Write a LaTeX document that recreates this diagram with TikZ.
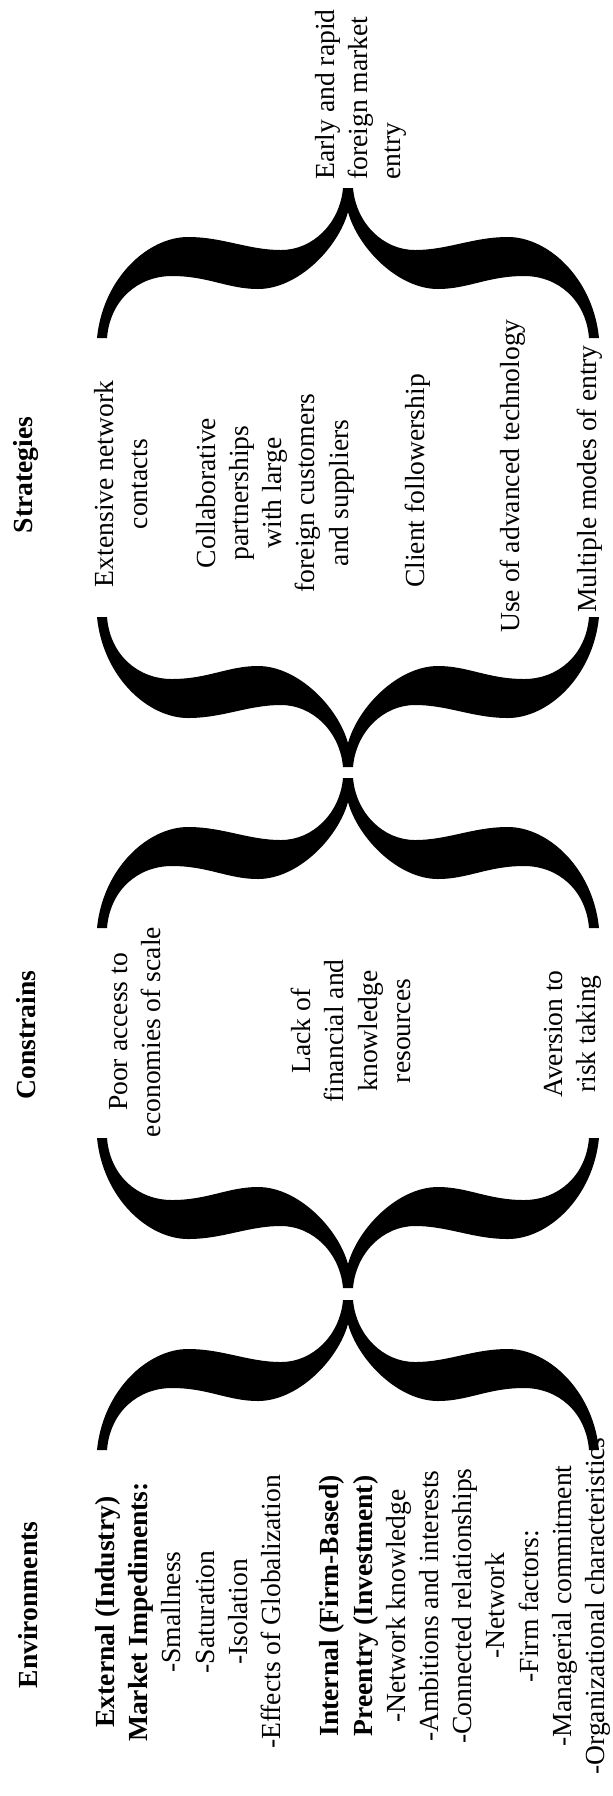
\documentclass[tikz,border=0pt]{standalone}
\usepackage{fontspec}
\setmainfont{Liberation Serif}
\begin{document}
\begin{tikzpicture}[x=0.5pt, y=-0.5pt,
    lbl/.style={rotate=90, inner sep=0pt, align=center, font=\fontsize{13.8}{16.6}\selectfont},
    head/.style={lbl, font=\fontsize{13.8}{16.6}\selectfont\bfseries},
    bigbrace/.pic={
      \fill (-5,0) -- (5,0)
        .. controls (8,35) and (35,62) .. (67,62)
        .. controls (100,62) and (125,49) .. (160,49)
        .. controls (200,49) and (245,90) .. (251,150)
        -- (241,150)
        .. controls (238,112) and (210,88) .. (176,88)
        .. controls (140,88) and (120,101) .. (90,101)
        .. controls (50,101) and (10,60) .. (0,24)
        .. controls (-10,60) and (-50,101) .. (-90,101)
        .. controls (-120,101) and (-140,88) .. (-176,88)
        .. controls (-210,88) and (-238,112) .. (-241,150)
        -- (-251,150)
        .. controls (-245,90) and (-200,49) .. (-160,49)
        .. controls (-125,49) and (-100,62) .. (-67,62)
        .. controls (-35,62) and (-8,35) .. (-5,0)
        -- cycle;
    }]
    \useasboundingbox (0,0) rectangle (613,1796);

    % headings
    \node[head] (hstrat) at (26,475) {Strategies};
    \node[head] (hcons) at (26,1035) {Constrains};
    \node[head] (henv) at (28,1605) {Environments};

    % braces
    \pic (brout) at (348,188) {bigbrace};
    \pic[yscale=-1] (brstratl) at (348,767) {bigbrace};
    \pic (brconsr) at (348,778) {bigbrace};
    \pic[yscale=-1] (brconsl) at (348,1288) {bigbrace};
    \pic (brenvr) at (348,1300) {bigbrace};

    % outcome
    \node[lbl, align=left, anchor=west] (outc) at (361,180) {Early and rapid\\foreign market\\entry};

    % strategies
    \node[lbl] (s1) at (121,484) {Extensive network\\contacts};
    \node[lbl] (s2) at (275,493) {Collaborative\\partnerships\\with large\\foreign customers\\and suppliers};
    \node[lbl] (s3) at (418,481) {Client followership};
    \node[lbl] (s4) at (513,476) {Use of advanced technology};
    \node[lbl] (s5) at (590,479) {Multiple modes of entry};

    % constrains
    \node[lbl] (c1) at (135,1032) {Poor access to\\economies of scale};
    \node[lbl] (c2) at (351,1031) {Lack of\\financial and\\knowledge\\resources};
    \node[lbl] (c3) at (573,1034) {Aversion to\\risk taking};

    % environments
    \node[lbl] (envext) at (188,1612) {\textbf{External (Industry)}\\\textbf{Market Impediments:}\\-Smallness\\-Saturation\\-Isolation\\-Effects of Globalization};
    \node[lbl] (envint) at (465,1606) {\textbf{Internal (Firm-Based)}\\\textbf{Preentry (Investment)}\\-Network knowledge\\-Ambitions and interests\\-Connected relationships\\-Network\\-Firm factors:\\-Managerial commitment\\-Organizational characteristics};
\end{tikzpicture}
\end{document}
